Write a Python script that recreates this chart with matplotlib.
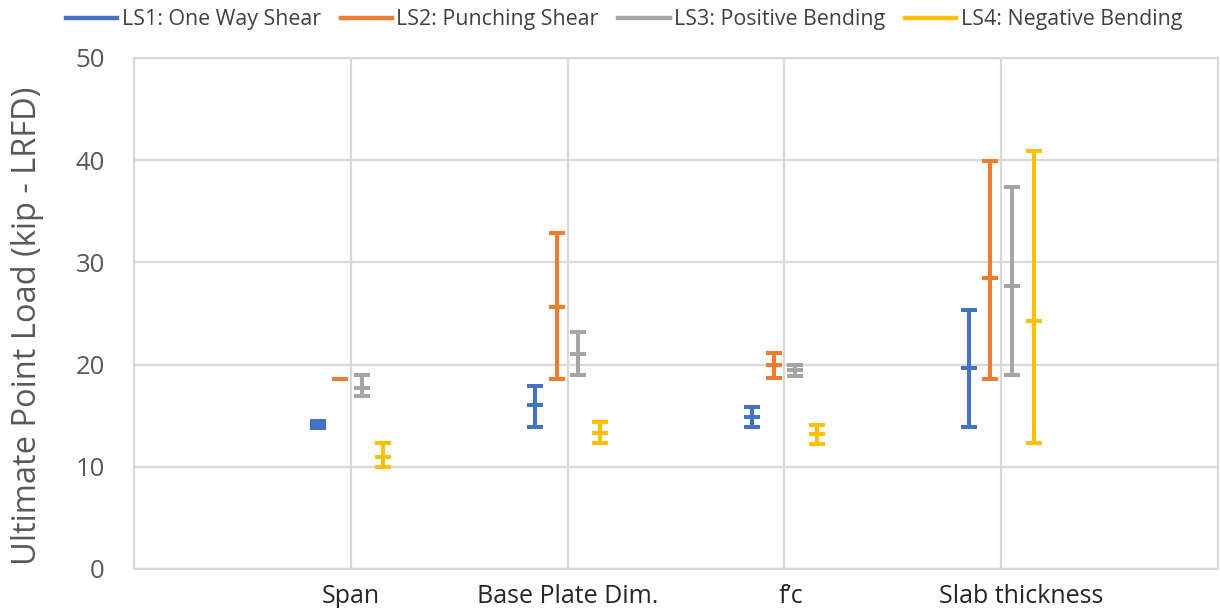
import matplotlib
matplotlib.use("Agg")
import matplotlib.pyplot as plt
from matplotlib.lines import Line2D
import numpy as np

categories = ["Span", "Base Plate Dim.", "f\u2019c", "Slab thickness"]
series_names = ["LS1: One Way Shear", "LS2: Punching Shear",
                "LS3: Positive Bending", "LS4: Negative Bending"]
colors = ["#4472C4", "#ED7D31", "#A5A5A5", "#FFC000"]

# high / mid / low per series, per category
ls1_high = [14.5, 17.9, 15.9, 25.3]
ls1_mid  = [14.2, 16.0, 14.9, 19.7]
ls1_low  = [13.8, 13.9, 13.9, 13.9]

ls2_high = [18.6, 32.9, 21.1, 39.9]
ls2_mid  = [18.6, 25.6, 20.0, 28.5]
ls2_low  = [18.6, 18.6, 18.7, 18.6]

ls3_high = [19.0, 23.2, 20.0, 37.4]
ls3_mid  = [17.7, 21.0, 19.5, 27.7]
ls3_low  = [16.9, 19.0, 18.9, 19.0]

ls4_high = [12.3, 14.4, 14.1, 40.9]
ls4_mid  = [11.0, 13.3, 13.2, 24.3]
ls4_low  = [10.0, 12.3, 12.2, 12.3]

highs = [ls1_high, ls2_high, ls3_high, ls4_high]
mids = [ls1_mid, ls2_mid, ls3_mid, ls4_mid]
lows = [ls1_low, ls2_low, ls3_low, ls4_low]

offsets = [-0.15, -0.05, 0.05, 0.15]

W, H = 1220, 608
fig = plt.figure(figsize=(W / 100, H / 100), dpi=100)
ax = fig.add_axes([134 / W, 1 - 569 / H, (1218 - 134) / W, (569 - 58) / H])

x = np.arange(1, len(categories) + 1)
lw = 2.9
for i in range(4):
    hi = np.array(highs[i]); md = np.array(mids[i]); lo = np.array(lows[i])
    xs = x + offsets[i]
    ax.errorbar(xs, md, yerr=[md - lo, hi - md], fmt='none', ecolor=colors[i],
                elinewidth=lw, capsize=5.6, capthick=lw, zorder=3)
    ax.plot(xs, md, linestyle='none', marker='_', markersize=11.2,
            markeredgewidth=lw, color=colors[i], zorder=4)

ax.set_xlim(0, 5)
ax.set_ylim(0, 50)
ax.set_yticks([0, 10, 20, 30, 40, 50])
ax.set_xticks([1, 2, 3, 4])
ax.set_xticklabels([])
grid_c = "#D9D9D9"
ax.grid(True, color=grid_c, linewidth=1.6, zorder=0)
ax.set_axisbelow(True)
for s in ax.spines.values():
    s.set_color(grid_c)
    s.set_linewidth(1.6)
ax.tick_params(axis='both', length=0)
ax.tick_params(axis='y', pad=21, labelsize=18.5, labelcolor="#595959")
for t in ax.get_yticklabels():
    t.set_fontfamily(["Open Sans", "DejaVu Sans"])

# category labels
label_pos = [1.0, 2.0, 3.03, 4.09]
for p, c in zip(label_pos, categories):
    ax.text(p, -(603 - 569) / (569 - 58), c, transform=ax.get_xaxis_transform(),
            ha='center', va='baseline', fontsize=18, color="#262626",
            family=["Open Sans", "DejaVu Sans"])

fig.text(28 / W, 1 - 326 / H, "Ultimate Point Load (kip - LRFD)", rotation=90,
         ha='center', va='center', fontsize=23.5, color="#595959",
         family=["Open Sans", "DejaVu Sans"])

handles = [Line2D([0], [0], color=c, linewidth=3.2) for c in colors]
leg = fig.legend(handles, series_names, loc='center', bbox_to_anchor=(624 / W, 1 - 20 / H),
                 ncol=4, frameon=False, handlelength=2.4, handletextpad=0.2,
                 columnspacing=0.93, borderpad=0, borderaxespad=0,
                 prop={'family': ["Open Sans", "DejaVu Sans"], 'size': 15.4})
for t in leg.get_texts():
    t.set_color("#404040")

fig.savefig("out.png", dpi=100)
